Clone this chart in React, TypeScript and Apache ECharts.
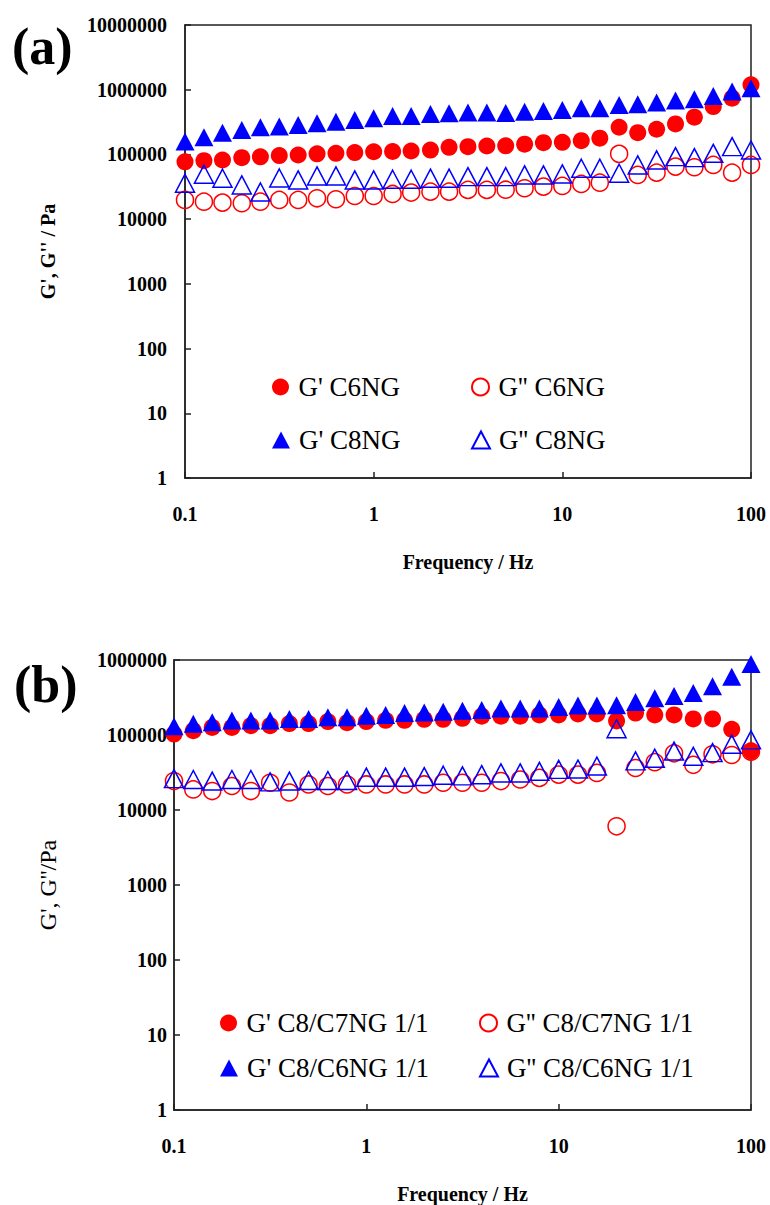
import React, { useEffect, useRef } from 'react';
import * as echarts from 'echarts';

// Frequency (Hz), 10 points per decade
const freq = [0.1, 0.126, 0.158, 0.2, 0.251, 0.316, 0.398, 0.501, 0.631, 0.794, 1, 1.26, 1.58, 2, 2.51, 3.16, 3.98, 5.01, 6.31, 7.94, 10, 12.6, 15.8, 20, 25.1, 31.6, 39.8, 50.1, 63.1, 79.4, 100];

// Panel (a)
const aG1C6 = [77000, 80000, 82000, 89000, 92000, 96000, 98000, 102000, 104000, 107000, 110000, 111000, 113000, 117000, 129000, 132000, 135000, 136000, 144000, 152000, 154000, 163000, 178000, 263000, 217000, 245000, 296000, 376000, 548000, 739000, 1190000];
const aG2C6 = [19800, 18600, 18000, 17600, 18600, 19800, 19800, 21000, 20300, 22800, 22800, 24500, 25700, 26600, 26600, 28300, 28300, 28500, 30000, 31800, 32600, 35000, 36600, 102000, 48200, 52300, 64800, 63400, 68800, 52300, 68800];
const aG1C8 = [158000, 184000, 217000, 239000, 263000, 269000, 286000, 304000, 321000, 341000, 363000, 394000, 394000, 423000, 433000, 445000, 443000, 438000, 458000, 470000, 487000, 518000, 518000, 582000, 597000, 632000, 679000, 713000, 802000, 935000, 1050000];
const aG2C8 = [35900, 49400, 42900, 33800, 26300, 43300, 40400, 46500, 46500, 40400, 40400, 41400, 41400, 43000, 43000, 45400, 45400, 45400, 48200, 48200, 50000, 61200, 61200, 51200, 68800, 82200, 92500, 89200, 104000, 132000, 117000];

// Panel (b)
const bG1C7 = [103000, 114000, 126000, 126000, 133000, 133000, 142000, 142000, 151000, 146000, 151000, 157000, 157000, 162000, 162000, 167000, 178000, 178000, 178000, 185000, 185000, 191000, 191000, 154000, 196000, 185000, 185000, 164000, 164000, 119000, 61000];
const bG2C7 = [24300, 18800, 17900, 20900, 17900, 23100, 17100, 21900, 20900, 21900, 21900, 21900, 21900, 21900, 23100, 23100, 23100, 24300, 25500, 26800, 29600, 29600, 31200, 6060, 36300, 43400, 57000, 40000, 55300, 54100, 60000];
const bG1C6 = [131000, 141000, 148000, 156000, 156000, 156000, 164000, 164000, 172000, 172000, 181000, 185000, 196000, 200000, 204000, 210000, 215000, 226000, 226000, 226000, 237000, 248000, 248000, 250000, 276000, 309000, 331000, 362000, 447000, 599000, 887000];
const bG2C6 = [26200, 25500, 24300, 25500, 25500, 23700, 24300, 24700, 24700, 24700, 27400, 27400, 27400, 27900, 29100, 28500, 29600, 31200, 31200, 32800, 34800, 35200, 38500, 121000, 45200, 49000, 61000, 52000, 58200, 75500, 86100];

const xTickLabels = ['0.1', '1', '10', '100'];
const yTickLabelsA = ['1', '10', '100', '1000', '10000', '100000', '1000000', '10000000'];
const yTickLabelsB = ['1', '10', '100', '1000', '10000', '100000', '1000000'];

const namesA = ["G' C6NG", "G'' C6NG", "G' C8NG", "G'' C8NG"];
const namesB = ["G' C8/C7NG 1/1", "G'' C8/C7NG 1/1", "G' C8/C6NG 1/1", "G'' C8/C6NG 1/1"];

const SERIF = '"Liberation Serif", "Times New Roman", serif';
const RED = '#ff0000';
const BLUE = '#0000ff';

function pts(ys: number[]) {
  return freq.map((f, i) => [f, ys[i]]);
}

function makeSeries(name: string, ys: number[], idx: number, kind: 'fc' | 'oc' | 'ft' | 'ot') {
  const isCircle = kind === 'fc' || kind === 'oc';
  const filled = kind === 'fc' || kind === 'ft';
  const color = isCircle ? RED : BLUE;
  return {
    name,
    type: 'scatter',
    xAxisIndex: idx,
    yAxisIndex: idx,
    data: pts(ys),
    symbol: isCircle ? 'circle' : 'triangle',
    symbolSize: isCircle ? 17 : [19, 18],
    itemStyle: filled
      ? { color, borderColor: color, borderWidth: 0, opacity: 1 }
      : { color: 'rgba(255,255,255,0)', borderColor: color, borderWidth: 1.5, opacity: 1 },
    emphasis: { disabled: true },
  };
}

function logFmt(labels: string[], offset: number) {
  return (v: number) => {
    const e = Math.round(Math.log10(v)) + offset;
    return labels[e] ?? '';
  };
}

function xAxis(idx: number, labelMargin: number) {
  return {
    type: 'log',
    gridIndex: idx,
    logBase: 10,
    min: 0.1,
    max: 100,
    splitNumber: 3,
    name: 'Frequency / Hz',
    nameLocation: 'middle',
    nameGap: 74,
    nameTextStyle: { fontFamily: SERIF, fontWeight: 'bold', fontSize: 20, color: '#000' },
    axisLine: { show: true, lineStyle: { color: '#222', width: 1.5 } },
    axisTick: { show: true, inside: true, length: 6, lineStyle: { color: '#222', width: 1.5 } },
    minorTick: { show: false },
    splitLine: { show: false },
    axisLabel: {
      margin: labelMargin,
      fontFamily: SERIF,
      fontWeight: 'bold',
      fontSize: 20,
      color: '#000',
      formatter: logFmt(xTickLabels, 1),
      showMinLabel: true,
      showMaxLabel: true,
    },
  };
}

function yAxis(idx: number, max: number, split: number, labels: string[], margin: number, name: string, nameGap: number, nameStyle: any) {
  return {
    type: 'log',
    gridIndex: idx,
    logBase: 10,
    min: 1,
    max,
    splitNumber: split,
    name,
    nameLocation: 'middle',
    nameGap,
    nameRotate: 90,
    nameTextStyle: nameStyle,
    axisLine: { show: true, lineStyle: { color: '#222', width: 1.5 } },
    axisTick: { show: true, inside: true, length: 6, lineStyle: { color: '#222', width: 1.5 } },
    minorTick: { show: false },
    splitLine: { show: false },
    axisLabel: {
      margin,
      fontFamily: SERIF,
      fontWeight: 'bold',
      fontSize: 20,
      color: '#000',
      formatter: logFmt(labels, 0),
      showMinLabel: true,
      showMaxLabel: true,
    },
  };
}

function legendItem(name: string, cx: number, cy: number) {
  return {
    data: [name],
    left: cx - 9,
    top: cy - 14,
    padding: 0,
    itemWidth: 18,
    itemHeight: 17,
    selectedMode: false,
    textStyle: { fontFamily: SERIF, fontSize: 27, color: '#000', lineHeight: 28, padding: [0, 0, 0, 4] },
  };
}

export default function App() {
  const ref = useRef<HTMLDivElement>(null);
  useEffect(() => {
    const chart = echarts.init(ref.current!, null, { renderer: 'svg' });
    const option: any = {
      animation: false,
      backgroundColor: '#fff',
      grid: [
        { left: 185, top: 25, width: 566, height: 453, show: true, borderColor: '#222', borderWidth: 1.5, backgroundColor: 'transparent' },
        { left: 174, top: 660, width: 577, height: 458, show: true, borderColor: '#222', borderWidth: 1.5, backgroundColor: 'transparent' },
      ],
      xAxis: [xAxis(0, 26), xAxis(1, 26)],
      yAxis: [
        yAxis(0, 1e7, 7, yTickLabelsA, 18, "G', G'' / Pa", 127, { fontFamily: SERIF, fontWeight: 'bold', fontSize: 20, color: '#000' }),
        yAxis(1, 1e6, 6, yTickLabelsB, 7, "G', G''/Pa", 114, { fontFamily: SERIF, fontWeight: 'normal', fontSize: 24, color: '#000' }),
      ],
      legend: [
        legendItem(namesA[0], 281, 387),
        legendItem(namesA[1], 480, 387),
        legendItem(namesA[2], 281, 440),
        legendItem(namesA[3], 480, 440),
        legendItem(namesB[0], 229, 1023),
        legendItem(namesB[1], 488, 1023),
        legendItem(namesB[2], 229, 1068),
        legendItem(namesB[3], 488, 1068),
      ],
      graphic: [
        { type: 'text', left: 12, top: 20, style: { text: '(a)', font: 'bold 52px "Liberation Serif", serif', fill: '#000' } },
        { type: 'text', left: 14, top: 658, style: { text: '(b)', font: 'bold 52px "Liberation Serif", serif', fill: '#000' } },
      ],
      series: [
        makeSeries(namesA[0], aG1C6, 0, 'fc'),
        makeSeries(namesA[1], aG2C6, 0, 'oc'),
        makeSeries(namesA[2], aG1C8, 0, 'ft'),
        makeSeries(namesA[3], aG2C8, 0, 'ot'),
        makeSeries(namesB[0], bG1C7, 1, 'fc'),
        makeSeries(namesB[1], bG2C7, 1, 'oc'),
        makeSeries(namesB[2], bG1C6, 1, 'ft'),
        makeSeries(namesB[3], bG2C6, 1, 'ot'),
      ],
    };
    chart.setOption(option);
    return () => chart.dispose();
  }, []);
  return (
    <div
      ref={ref}
      style={{ position: 'absolute', left: 0, top: 0, width: 770, height: 1205, background: '#fff' }}
    />
  );
}
